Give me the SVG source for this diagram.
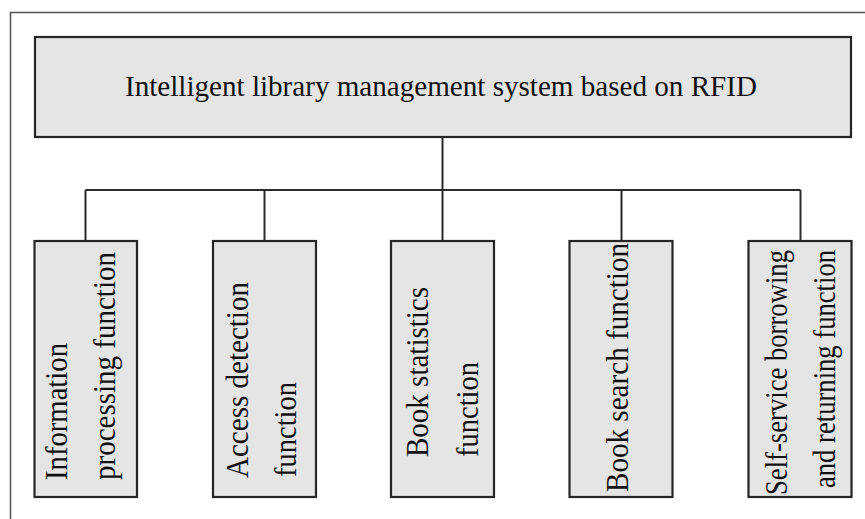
<svg xmlns="http://www.w3.org/2000/svg" width="865" height="519" viewBox="0 0 865 519">
<style>
.box{fill:#e5e5e5;stroke:#262626;stroke-width:2.2}
.ln{fill:none;stroke:#2a2a2a;stroke-width:2}
.t{font-family:"Liberation Serif","Times New Roman",serif;font-size:31px;fill:#111}
.h{font-family:"Liberation Serif","Times New Roman",serif;font-size:29px;fill:#111}
</style>
<rect x="0" y="0" width="865" height="519" fill="#ffffff"/>
<path d="M10.5,519 V12.5 H865" fill="none" stroke="#555" stroke-width="1.5"/>
<g id="connectors">
<path class="ln" d="M442.5,137 V241"/>
<path class="ln" d="M85.5,190 H800.5"/>
<path class="ln" d="M85.5,190 V241"/>
<path class="ln" d="M264.5,190 V241"/>
<path class="ln" d="M621.5,190 V241"/>
<path class="ln" d="M800.5,190 V241"/>
</g>
<g id="root">
<rect class="box" x="35" y="37" width="816" height="100"/>
<text class="h" x="125" y="96" textLength="632" lengthAdjust="spacingAndGlyphs">Intelligent library management system based on RFID</text>
</g>
<g id="n1">
<rect class="box" x="34.5" y="241" width="102.5" height="256"/>
<text class="t" transform="translate(67,480) rotate(-90)" textLength="137" lengthAdjust="spacingAndGlyphs">Information</text>
<text class="t" transform="translate(115,480) rotate(-90)" textLength="228" lengthAdjust="spacingAndGlyphs">processing function</text>
</g>
<g id="n2">
<rect class="box" x="213" y="241" width="103" height="256"/>
<text class="t" transform="translate(248,478) rotate(-90)" textLength="196" lengthAdjust="spacingAndGlyphs">Access detection</text>
<text class="t" transform="translate(296,477) rotate(-90)" textLength="95" lengthAdjust="spacingAndGlyphs">function</text>
</g>
<g id="n3">
<rect class="box" x="391" y="241" width="103" height="256"/>
<text class="t" transform="translate(428,457) rotate(-90)" textLength="170" lengthAdjust="spacingAndGlyphs">Book statistics</text>
<text class="t" transform="translate(478,457) rotate(-90)" textLength="95" lengthAdjust="spacingAndGlyphs">function</text>
</g>
<g id="n4">
<rect class="box" x="569.5" y="241" width="103" height="256"/>
<text class="t" transform="translate(628,492) rotate(-90)" textLength="249" lengthAdjust="spacingAndGlyphs">Book search function</text>
</g>
<g id="n5">
<rect class="box" x="748.5" y="241" width="103" height="256"/>
<text class="t" transform="translate(787,495) rotate(-90)" textLength="245" lengthAdjust="spacingAndGlyphs">Self-service borrowing</text>
<text class="t" transform="translate(835,488) rotate(-90)" textLength="238" lengthAdjust="spacingAndGlyphs">and returning function</text>
</g>
</svg>
